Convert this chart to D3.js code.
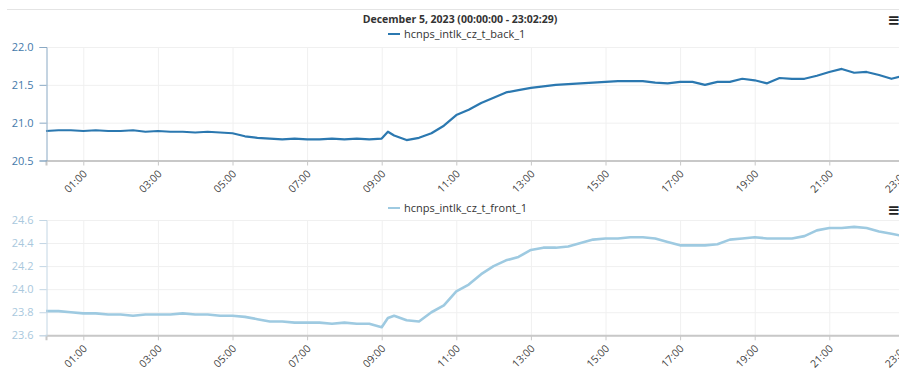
<!DOCTYPE html>
<html>
<head>
<meta charset="utf-8">
<script src="https://cdn.jsdelivr.net/npm/d3@7"></script>
<style>
  body { margin: 0; background: #fff; font-family: "Open Sans", sans-serif; }
  svg { display: block; }
  .grid line { stroke: #f0f0f0; }
  .grid path { display: none; }
</style>
</head>
<body>
<div id="chart"></div>
<script>
// sample times (Dec 5, 2023)
const times = [
  '00:00', '00:20', '00:40', '01:00', '01:20', '01:40', '02:00', '02:20', '02:40',
  '03:00', '03:20', '03:40', '04:00', '04:20', '04:40', '05:00', '05:20', '05:40',
  '06:00', '06:20', '06:40', '07:00', '07:20', '07:40', '08:00', '08:20', '08:40',
  '09:00', '09:10', '09:20', '09:40', '10:00', '10:20', '10:40',
  '11:00', '11:20', '11:40', '12:00', '12:20', '12:40', '13:00', '13:20', '13:40',
  '14:00', '14:20', '14:40', '15:00', '15:20', '15:40', '16:00', '16:20', '16:40',
  '17:00', '17:20', '17:40', '18:00', '18:20', '18:40', '19:00', '19:20', '19:40',
  '20:00', '20:20', '20:40', '21:00', '21:20', '21:40', '22:00', '22:20', '22:40',
  '23:00', '23:02'
];

const backValues = [
  20.89, 20.90, 20.90, 20.89, 20.90, 20.89, 20.89, 20.90, 20.88,
  20.89, 20.88, 20.88, 20.87, 20.88, 20.87, 20.86, 20.82, 20.80,
  20.79, 20.78, 20.79, 20.78, 20.78, 20.79, 20.78, 20.79, 20.78,
  20.79, 20.88, 20.83, 20.77, 20.80, 20.86, 20.96,
  21.10, 21.17, 21.26, 21.33, 21.40, 21.43, 21.46, 21.48, 21.50,
  21.51, 21.52, 21.53, 21.54, 21.55, 21.55, 21.55, 21.53, 21.52,
  21.54, 21.54, 21.50, 21.54, 21.54, 21.58, 21.56, 21.52, 21.59,
  21.58, 21.58, 21.62, 21.67, 21.71, 21.66, 21.67, 21.63, 21.58,
  21.62, 21.63
];

const frontValues = [
  23.81, 23.81, 23.80, 23.79, 23.79, 23.78, 23.78, 23.77, 23.78,
  23.78, 23.78, 23.79, 23.78, 23.78, 23.77, 23.77, 23.76, 23.74,
  23.72, 23.72, 23.71, 23.71, 23.71, 23.70, 23.71, 23.70, 23.70,
  23.67, 23.75, 23.77, 23.73, 23.72, 23.80, 23.86,
  23.98, 24.04, 24.13, 24.20, 24.25, 24.28, 24.34, 24.36, 24.36,
  24.37, 24.40, 24.43, 24.44, 24.44, 24.45, 24.45, 24.44, 24.41,
  24.38, 24.38, 24.38, 24.39, 24.43, 24.44, 24.45, 24.44, 24.44,
  24.44, 24.46, 24.51, 24.53, 24.53, 24.54, 24.53, 24.50, 24.48,
  24.46, 24.46
];

const tickLabels = ['01:00', '03:00', '05:00', '07:00', '09:00', '11:00',
  '13:00', '15:00', '17:00', '19:00', '21:00', '23:00'];
const backTicks = [20.5, 21.0, 21.5, 22.0];
const frontTicks = [23.6, 23.8, 24.0, 24.2, 24.4, 24.6];

const title = 'December 5, 2023 (00:00:00 - 23:02:29)';

const width = 899;
const height = 371;
const parseTime = d3.timeParse('%Y-%m-%d %H:%M');
const day = '2023-12-05 ';

const svg = d3.select('#chart').append('svg')
  .attr('width', width)
  .attr('height', height);

// time scale: 00:00 .. 23:02:29, plot runs past the right edge
const x = d3.scaleTime()
  .domain([parseTime(day + '00:00'), parseTime(day + '23:00')])
  .range([46, 903.9]);

// top border + title
svg.append('line')
  .attr('x1', 7).attr('x2', width).attr('y1', 9.5).attr('y2', 9.5)
  .attr('stroke', '#e4e4e4');

svg.append('text')
  .attr('x', 460).attr('y', 23)
  .attr('text-anchor', 'middle')
  .style('font-size', '10.5px').style('font-weight', 'bold').style('fill', '#333')
  .text(title);

function drawPanel(opts) {
  const y = d3.scaleLinear().domain(opts.domain).range([opts.bottom, opts.top]);
  const g = svg.append('g');

  // legend
  const legend = g.append('g');
  legend.append('line')
    .attr('x1', 388).attr('x2', 400)
    .attr('y1', opts.legendY - 4).attr('y2', opts.legendY - 4)
    .attr('stroke', opts.color).attr('stroke-width', 2);
  legend.append('text')
    .attr('x', 404).attr('y', opts.legendY)
    .style('font-size', '11px').style('fill', '#333')
    .text(opts.name);

  // menu icon
  g.append('text')
    .attr('x', 900).attr('y', opts.menuY)
    .attr('text-anchor', 'end')
    .style('font-family', '"DejaVu Sans", sans-serif')
    .style('font-size', '15px').style('font-weight', 'bold').style('fill', '#222')
    .text('\u2261');

  // grid
  g.append('g')
    .attr('class', 'grid')
    .attr('transform', `translate(0, ${opts.bottom})`)
    .call(d3.axisBottom(x)
      .tickValues(tickLabels.map((t) => parseTime(day + t)))
      .tickSize(-(opts.bottom - opts.top))
      .tickFormat(''));
  g.append('g')
    .attr('class', 'grid')
    .attr('transform', 'translate(46.5, 0)')
    .call(d3.axisLeft(y)
      .tickValues(opts.ticks)
      .tickSize(-(width - 46))
      .tickFormat(''));

  // line
  const valueLine = d3.line()
    .x((d) => x(d.t))
    .y((d) => y(d.v));
  const data = times.map((t, i) => ({ t: parseTime(day + t), v: opts.values[i] }));
  data[data.length - 1].t = new Date(data[data.length - 1].t.getTime() + 29000);
  g.append('path')
    .datum(data)
    .attr('fill', 'none')
    .attr('stroke', opts.color)
    .attr('stroke-width', opts.lineWidth)
    .attr('stroke-linejoin', 'round')
    .attr('d', valueLine);

  // x axis
  const xAxis = g.append('g')
    .attr('transform', `translate(0, ${opts.bottom})`)
    .call(d3.axisBottom(x)
      .tickValues(tickLabels.map((t) => parseTime(day + t)))
      .tickSize(5)
      .tickFormat(d3.timeFormat('%H:%M')));
  xAxis.select('.domain').attr('stroke', '#c8c8c8').attr('stroke-width', 2);
  xAxis.selectAll('.tick line').attr('stroke', '#c8c8c8');
  xAxis.selectAll('.tick text')
    .style('font-family', '"Open Sans", sans-serif')
    .style('font-size', '10.5px')
    .style('fill', '#444')
    .attr('text-anchor', 'end')
    .attr('dx', '0')
    .attr('dy', '0')
    .attr('y', 0)
    .attr('transform', 'translate(4, 14) rotate(-45)');

  // y axis
  const yAxis = g.append('g')
    .attr('transform', 'translate(46.5, 0)')
    .call(d3.axisLeft(y)
      .tickValues(opts.ticks)
      .tickSize(7)
      .tickPadding(6)
      .tickFormat(d3.format('.1f')));
  yAxis.select('.domain').attr('stroke', opts.axisColor);
  yAxis.selectAll('.tick line').attr('stroke', opts.axisColor);
  yAxis.selectAll('.tick text')
    .style('font-family', '"Open Sans", sans-serif')
    .style('font-size', '11px')
    .style('fill', opts.labelColor);
}

drawPanel({
  name: 'hcnps_intlk_cz_t_back_1',
  values: backValues,
  domain: [20.5, 22.0],
  ticks: backTicks,
  top: 47,
  bottom: 160.5,
  legendY: 38,
  menuY: 25,
  color: '#2b78b0',
  axisColor: '#8aa9c4',
  labelColor: '#4479aa',
  lineWidth: 2.2
});

drawPanel({
  name: 'hcnps_intlk_cz_t_front_1',
  values: frontValues,
  domain: [23.6, 24.6],
  ticks: frontTicks,
  top: 220,
  bottom: 335.3,
  legendY: 212,
  menuY: 215,
  color: '#9ecae1',
  axisColor: '#c3d6e4',
  labelColor: '#a9c8dd',
  lineWidth: 2.6
});
</script>
</body>
</html>
